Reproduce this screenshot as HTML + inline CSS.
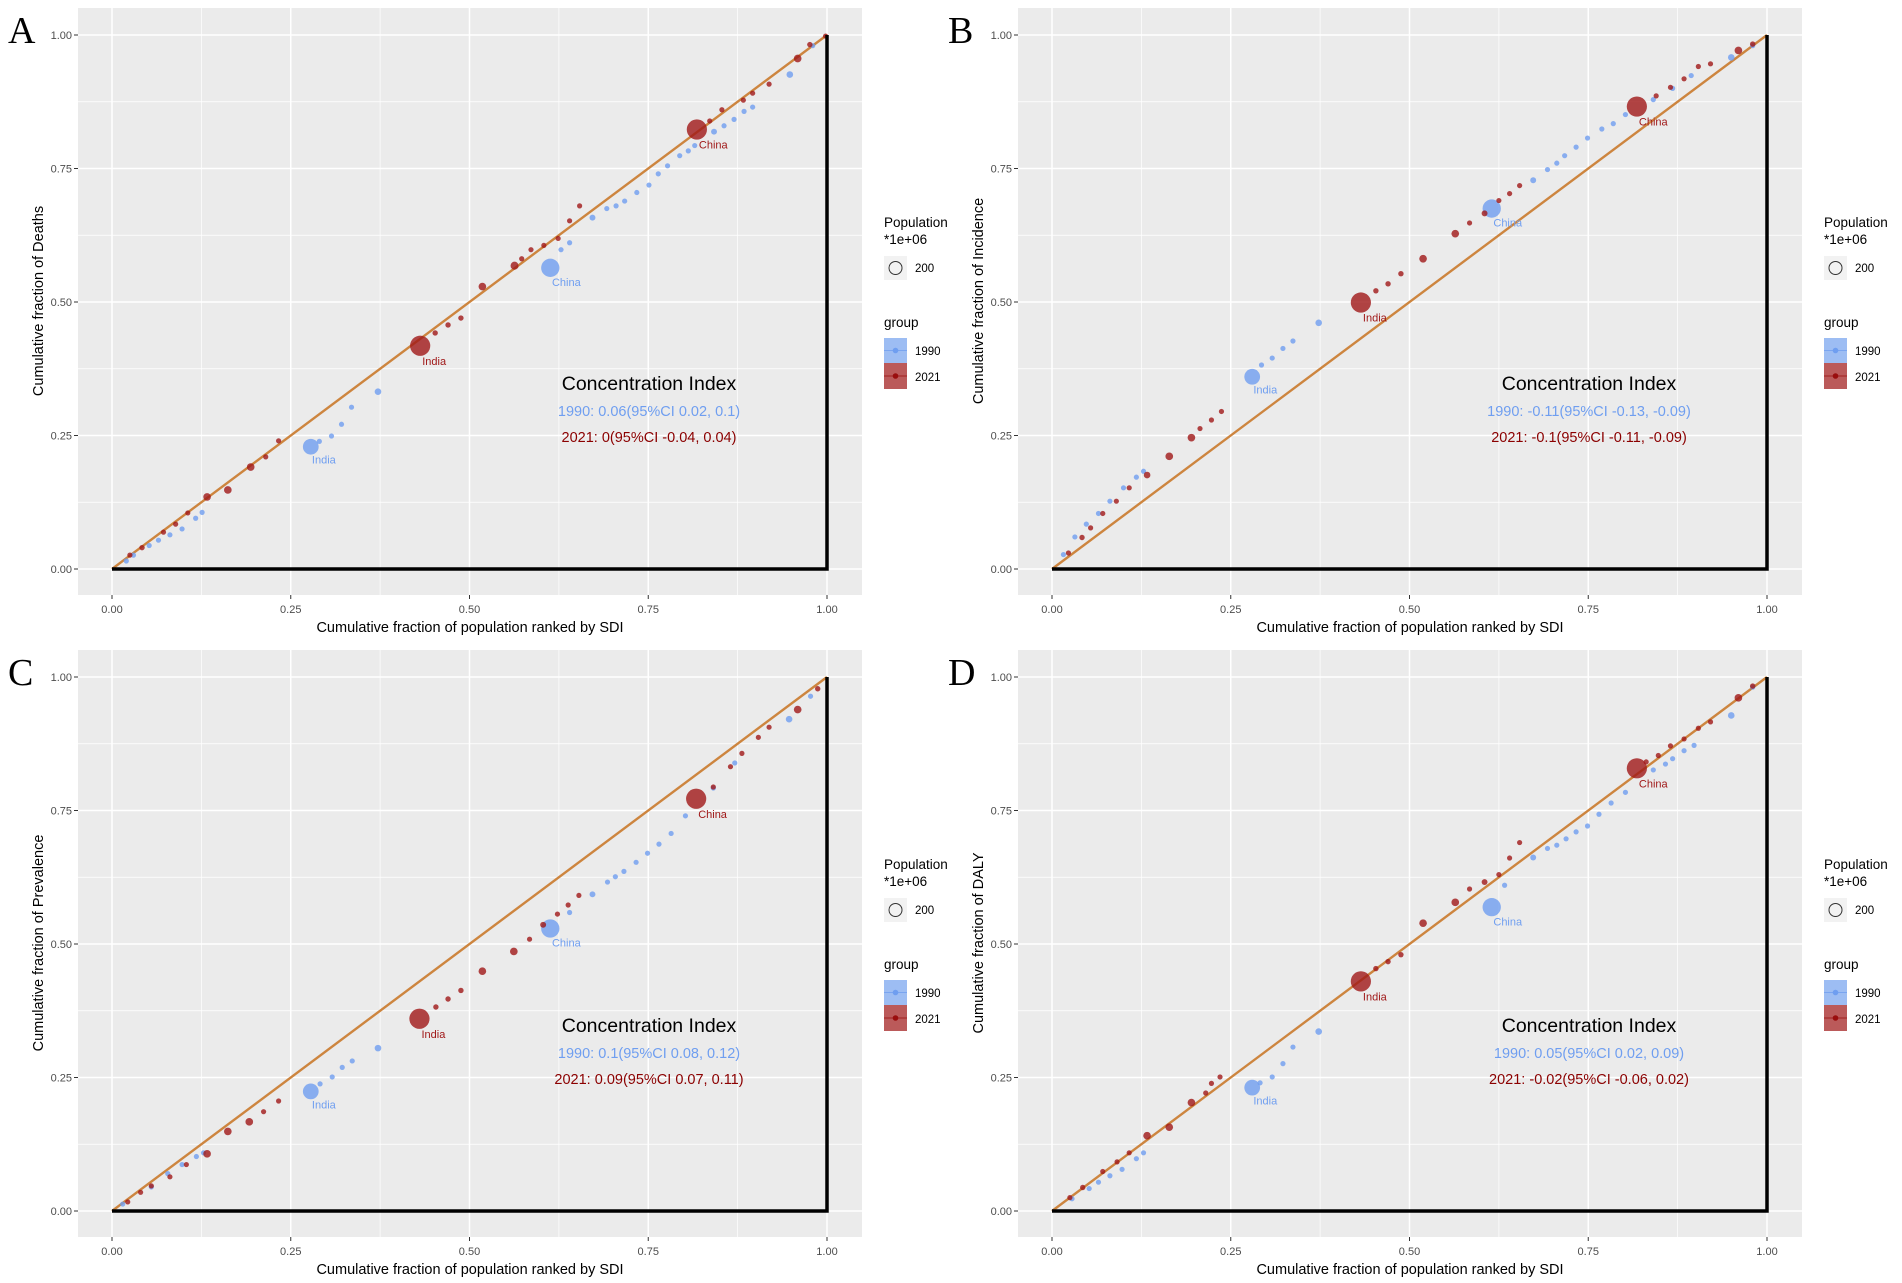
<!DOCTYPE html>
<html><head><meta charset="utf-8"><title>Concentration curves</title>
<style>html,body{margin:0;padding:0;background:#fff;}svg{display:block;font-family:"Liberation Sans",Arial,sans-serif;}</style>
</head><body>
<svg id="fig" width="1902" height="1283" viewBox="0 0 1902 1283" xmlns="http://www.w3.org/2000/svg"></svg>
<script>
// ---- data: panel metadata ----
const panelLetters = ["A","B","C","D"];
const panelMeasures = ["Deaths","Incidence","Prevalence","DALY"];
const ci1990 = ["1990: 0.06(95%CI 0.02, 0.1)","1990: -0.11(95%CI -0.13, -0.09)","1990: 0.1(95%CI 0.08, 0.12)","1990: 0.05(95%CI 0.02, 0.09)"];
const ci2021 = ["2021: 0(95%CI -0.04, 0.04)","2021: -0.1(95%CI -0.11, -0.09)","2021: 0.09(95%CI 0.07, 0.11)","2021: -0.02(95%CI -0.06, 0.02)"];
const tickValues = [0, 0.25, 0.5, 0.75, 1];
const tickLabels = ["0.00","0.25","0.50","0.75","1.00"];

// ---- data: points [x, y, population(millions)] ----
const A1990 = [[.278,.229,850],[.613,.564,1150],[.372,.332,150],[.335,.303,60],[.321,.271,60],[.307,.249,60],[.290,.239,60],[.126,.106,40],[.117,.095,60],[.098,.075,60],[.081,.064,40],[.065,.054,40],[.052,.044,40],[.030,.026,40],[.020,.015,30],[.628,.598,40],[.640,.611,40],[.672,.658,120],[.692,.675,60],[.705,.680,60],[.717,.689,40],[.734,.705,40],[.751,.719,40],[.764,.740,40],[.777,.755,40],[.794,.774,40],[.806,.783,40],[.815,.793,40],[.842,.819,120],[.856,.830,40],[.870,.842,40],[.884,.857,40],[.896,.865,40],[.948,.926,150],[.980,.980,60]];
const A2021 = [[.431,.418,1400],[.818,.823,1400],[.488,.470,100],[.470,.457,100],[.452,.442,100],[.518,.529,200],[.563,.568,220],[.573,.581,80],[.586,.598,60],[.604,.606,80],[.624,.619,60],[.640,.652,80],[.654,.680,80],[.162,.148,200],[.133,.135,200],[.194,.191,200],[.215,.210,60],[.233,.240,60],[.089,.084,60],[.072,.069,60],[.042,.040,100],[.025,.026,60],[.106,.105,60],[.836,.839,60],[.853,.860,80],[.883,.878,80],[.896,.891,60],[.919,.908,60],[.959,.956,200],[.976,.982,100],[.998,.998,40]];
const B1990 = [[.280,.360,850],[.615,.675,1150],[.373,.461,150],[.337,.427,60],[.323,.413,60],[.308,.395,60],[.293,.382,60],[.128,.183,60],[.118,.172,60],[.100,.152,60],[.081,.127,40],[.065,.104,40],[.048,.084,40],[.032,.060,40],[.016,.027,60],[.673,.728,120],[.693,.748,80],[.706,.760,60],[.717,.774,60],[.733,.790,40],[.749,.807,40],[.769,.824,40],[.785,.834,40],[.802,.851,40],[.841,.879,40],[.868,.900,40],[.894,.924,40],[.950,.958,150],[.980,.980,60]];
const B2021 = [[.432,.499,1400],[.818,.866,1400],[.453,.521,100],[.470,.534,100],[.488,.553,100],[.519,.581,200],[.564,.628,200],[.584,.648,60],[.605,.666,120],[.625,.690,80],[.640,.703,80],[.654,.718,60],[.195,.246,200],[.207,.263,60],[.223,.279,60],[.237,.295,60],[.164,.211,200],[.133,.176,150],[.108,.152,60],[.090,.127,60],[.071,.104,60],[.054,.077,80],[.042,.059,100],[.023,.030,60],[.845,.886,60],[.865,.902,60],[.884,.918,80],[.904,.941,60],[.921,.946,60],[.960,.971,200],[.980,.983,100]];
const C1990 = [[.278,.224,850],[.613,.529,1150],[.372,.305,150],[.336,.281,60],[.322,.269,60],[.308,.251,60],[.291,.238,60],[.128,.109,60],[.118,.102,60],[.098,.087,60],[.078,.070,40],[.055,.045,40],[.015,.013,40],[.640,.559,60],[.672,.593,120],[.693,.616,80],[.704,.626,40],[.716,.636,40],[.733,.653,40],[.749,.670,40],[.765,.687,40],[.782,.707,40],[.802,.740,40],[.841,.792,60],[.871,.839,40],[.947,.921,150],[.977,.964,60]];
const C2021 = [[.430,.360,1400],[.817,.772,1400],[.453,.382,100],[.470,.397,100],[.488,.413,100],[.518,.449,200],[.562,.486,200],[.584,.509,60],[.603,.536,120],[.623,.556,80],[.638,.573,80],[.653,.591,80],[.162,.149,200],[.192,.167,200],[.212,.186,60],[.233,.206,60],[.133,.107,200],[.104,.087,60],[.081,.064,60],[.055,.047,60],[.040,.035,80],[.022,.017,60],[.841,.794,60],[.865,.832,60],[.881,.857,80],[.904,.887,60],[.919,.906,60],[.959,.939,200],[.987,.978,100]];
const D1990 = [[.280,.231,850],[.615,.569,1150],[.373,.336,150],[.337,.307,60],[.323,.276,60],[.308,.251,60],[.291,.240,60],[.128,.109,60],[.118,.098,60],[.098,.078,60],[.081,.066,40],[.065,.054,40],[.052,.042,40],[.028,.023,40],[.633,.610,60],[.673,.662,120],[.693,.679,80],[.706,.685,60],[.719,.697,40],[.733,.710,40],[.749,.721,40],[.765,.743,40],[.782,.764,40],[.802,.784,40],[.841,.826,60],[.858,.837,40],[.868,.847,40],[.884,.862,40],[.898,.872,40],[.950,.928,150],[.980,.981,60]];
const D2021 = [[.432,.430,1400],[.818,.829,1400],[.453,.454,100],[.470,.467,100],[.488,.480,100],[.519,.539,200],[.564,.578,200],[.584,.603,60],[.605,.616,120],[.625,.630,80],[.640,.661,80],[.654,.690,80],[.195,.203,200],[.215,.221,60],[.223,.239,60],[.235,.251,60],[.164,.157,200],[.133,.141,200],[.108,.109,60],[.091,.092,60],[.071,.074,60],[.043,.044,100],[.025,.025,60],[.831,.841,60],[.848,.853,60],[.865,.871,80],[.884,.884,80],[.904,.904,60],[.921,.916,60],[.960,.961,200],[.980,.983,100]];
const series1990 = [A1990,B1990,C1990,D1990];
const series2021 = [A2021,B2021,C2021,D2021];

const NS = "http://www.w3.org/2000/svg";
const svg = document.getElementById("fig");
function mk(tag, attrs, parent, text){
  const e = document.createElementNS(NS, tag);
  for (const k in attrs) e.setAttribute(k, attrs[k]);
  if (text !== undefined) e.textContent = text;
  (parent||svg).appendChild(e);
  return e;
}
const BLUE = "#6f9ef0", RED = "#a01818";

for (let p = 0; p < 4; p++){
  const ox = (p % 2) * 940, oy = Math.floor(p / 2) * 642;
  const g = mk("g", {transform:`translate(${ox},${oy})`});
  
  
  const X = v => 112 + v * 715;
  const Y = v => 569 - v * 534;

  const bg = mk("rect", {x:78, y:8, width:784, height:587, fill:"#ebebeb"}, g);
  
  
  // minor grid
  for (let i = 0; i < 4; i++){
    const v = 0.125 + i * 0.25;
    mk("line", {x1:X(v), x2:X(v), y1:8, y2:595, stroke:"#fff", "stroke-width":0.7}, g);
    mk("line", {x1:78, x2:862, y1:Y(v), y2:Y(v), stroke:"#fff", "stroke-width":0.7}, g);
  }
  // major grid + ticks
  tickValues.forEach((v, i) => {
    mk("line", {x1:X(v), x2:X(v), y1:8, y2:595, stroke:"#fff", "stroke-width":1.5}, g);
    mk("line", {x1:78, x2:862, y1:Y(v), y2:Y(v), stroke:"#fff", "stroke-width":1.5}, g);
    mk("line", {x1:74, x2:78, y1:Y(v), y2:Y(v), stroke:"#333", "stroke-width":1}, g);
    mk("line", {x1:X(v), x2:X(v), y1:595, y2:599, stroke:"#333", "stroke-width":1}, g);
    const yl = mk("text", {x:72, y:Y(v)+4, "text-anchor":"end", "font-size":11, fill:"#4d4d4d"}, g, tickLabels[i]);
    
    
    const xl = mk("text", {x:X(v), y:613, "text-anchor":"middle", "font-size":11, fill:"#4d4d4d"}, g, tickLabels[i]);
    
    
  });
  // equality line
  const eq = mk("line", {x1:X(0), y1:Y(0), x2:X(1), y2:Y(1), stroke:"#cd853f", "stroke-width":2.4}, g);
  
  
  // points
  const drawSeries = (data, col, name) => {
    data.forEach((d, i) => {
      const r = Math.max(2.6, Math.sqrt(d[2]) * 0.27);
      const c = mk("circle", {cx:X(d[0]), cy:Y(d[1]), r:r, fill:col, "fill-opacity":0.8}, g);
      
      
      if (i < 2){
        const t = mk("text", {x:X(d[0]) + r*0.4 - 2, y:Y(d[1]) + r + 9, "font-size":11, fill:col}, g, i === 0 ? "India" : "China");
        
        
      }
    });
  };
  drawSeries(series1990[p], BLUE, "series-1990");
  drawSeries(series2021[p], RED, "series-2021");
  // black right angle
  const ra = mk("polyline", {points:`${X(0)},${Y(0)} ${X(1)},${Y(0)} ${X(1)},${Y(1)}`, fill:"none", stroke:"#000", "stroke-width":3.5}, g);
  
  
  // titles
  const lt = mk("text", {x:8, y:43, "font-size":38, "font-family":"Liberation Serif, serif", fill:"#000"}, g, panelLetters[p]);
  
  
  const xt = mk("text", {x:470, y:632, "text-anchor":"middle", "font-size":14.5, fill:"#000"}, g, "Cumulative fraction of population ranked by SDI");
  
  
  const yt = mk("text", {x:0, y:0, transform:"translate(43,301) rotate(-90)", "text-anchor":"middle", "font-size":14.5, fill:"#000"}, g, "Cumulative fraction of " + panelMeasures[p]);
  
  
  // concentration index annotation
  const t1 = mk("text", {x:649, y:390, "text-anchor":"middle", "font-size":19.5, fill:"#000"}, g, "Concentration Index");
  
  
  const t2 = mk("text", {x:649, y:416, "text-anchor":"middle", "font-size":14.5, fill:BLUE}, g, ci1990[p]);
  
  
  const t3 = mk("text", {x:649, y:442, "text-anchor":"middle", "font-size":14.5, fill:"#8b0000"}, g, ci2021[p]);
  
  
  // legend
  const lg = mk("g", {}, g);
  
  
  mk("text", {x:884, y:227, "font-size":13.5, fill:"#000"}, lg, "Population");
  mk("text", {x:884, y:244, "font-size":13.5, fill:"#000"}, lg, "*1e+06");
  mk("rect", {x:884, y:256, width:23, height:24, fill:"#f2f2f2"}, lg);
  mk("circle", {cx:895.5, cy:268, r:6.5, fill:"none", stroke:"#333", "stroke-width":1}, lg);
  mk("text", {x:915, y:272, "font-size":11.5, fill:"#000"}, lg, "200");
  mk("text", {x:884, y:327, "font-size":13.5, fill:"#000"}, lg, "group");
  const k1 = mk("rect", {x:884, y:338, width:23, height:25, fill:"#9dbdf3"}, lg);
  
  
  mk("line", {x1:884, x2:907, y1:350.5, y2:350.5, stroke:"#7aa5f0", "stroke-width":1}, lg);
  mk("circle", {cx:895.5, cy:350.5, r:2.8, fill:BLUE}, lg);
  const k2 = mk("rect", {x:884, y:363, width:23, height:26, fill:"#bb5a5a"}, lg);
  
  
  mk("line", {x1:884, x2:907, y1:376, y2:376, stroke:"#a02020", "stroke-width":1}, lg);
  mk("circle", {cx:895.5, cy:376, r:2.8, fill:"#9a0d0d"}, lg);
  mk("text", {x:915, y:355, "font-size":11.5, fill:"#000"}, lg, "1990");
  mk("text", {x:915, y:381, "font-size":11.5, fill:"#000"}, lg, "2021");
}
</script>
</body></html>
